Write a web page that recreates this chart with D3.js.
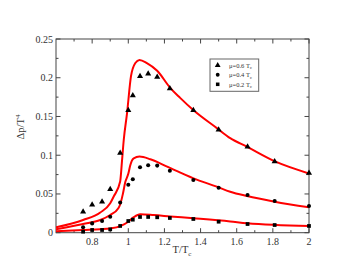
<!DOCTYPE html>
<html><head><meta charset="utf-8">
<script src="https://cdn.jsdelivr.net/npm/d3@7"></script>
<style>body{margin:0;background:#fff}svg{display:block}</style>
</head><body>
<svg id="c" width="360" height="278"></svg>
<script>
// Lattice data points [T/Tc, Δp/T^4]
const tri = [[0.75,0.027],[0.80,0.036],[0.855,0.040],[0.90,0.056],[0.955,0.103],[1.0,0.158],[1.025,0.177],[1.065,0.202],[1.11,0.205],[1.16,0.201],[1.23,0.186],[1.36,0.158],[1.50,0.133],[1.66,0.111],[1.81,0.092],[2.0,0.077]];
const circ = [[0.75,0.007],[0.80,0.012],[0.855,0.015],[0.90,0.0207],[0.955,0.039],[1.0,0.062],[1.025,0.069],[1.065,0.0845],[1.11,0.087],[1.16,0.0866],[1.23,0.080],[1.36,0.068],[1.50,0.058],[1.66,0.0487],[1.81,0.041],[2.0,0.0345]];
const sq = [[0.75,0.0013],[0.80,0.0035],[0.855,0.0035],[0.90,0.0043],[0.955,0.0087],[1.0,0.0151],[1.025,0.0168],[1.065,0.0203],[1.11,0.0203],[1.16,0.0199],[1.23,0.019],[1.36,0.0177],[1.50,0.0142],[1.66,0.0112],[1.81,0.0099],[2.0,0.0087]];
// Model curves
const curve06 = [[0.6,0.007],[0.75,0.0164],[0.845,0.026],[0.90,0.038],[0.92,0.047],[0.955,0.066],[0.965,0.092],[0.975,0.12],[0.993,0.154],[1.015,0.202],[1.039,0.219],[1.062,0.223],[1.103,0.219],[1.16,0.209],[1.232,0.187],[1.287,0.174],[1.361,0.158],[1.49,0.135],[1.564,0.122],[1.656,0.111],[1.812,0.092],[2.0,0.0765]];
const curve04 = [[0.6,0.0044],[0.75,0.0112],[0.845,0.0164],[0.90,0.0229],[0.945,0.0315],[0.956,0.037],[0.97,0.05],[0.983,0.065],[1.0,0.076],[1.011,0.087],[1.02,0.093],[1.03,0.096],[1.062,0.0982],[1.122,0.0948],[1.215,0.0853],[1.361,0.0702],[1.49,0.0594],[1.564,0.0529],[1.657,0.0473],[1.81,0.040],[2.0,0.0328]];
const curve02 = [[0.6,0.0018],[0.75,0.0035],[0.845,0.0045],[0.90,0.0055],[0.956,0.0085],[1.0,0.0142],[1.03,0.020],[1.066,0.0238],[1.14,0.0228],[1.232,0.021],[1.361,0.0186],[1.564,0.0145],[1.657,0.0122],[2.0,0.0087]];
const xTicks = [0.8,1,1.2,1.4,1.6,1.8,2];
const xTickLabels = ["0.8","1","1.2","1.4","1.6","1.8","2"];
const yTicks = [0,0.05,0.1,0.15,0.2,0.25];
const yTickLabels = ["0","0.05","0.1","0.15","0.2","0.25"];
const legendLabels = ["μ=0.6 T","μ=0.4 T","μ=0.2 T"];

const svg = d3.select("#c");
const L=56,R=309,T=39,B=232.7;
const x = d3.scaleLinear().domain([0.6,2]).range([L,R]);
const y = d3.scaleLinear().domain([0,0.25]).range([B,T]);
const font = "'Liberation Serif','Times New Roman',serif";
const axc = "#444";

const g = svg.append("g");
// frame
g.append("rect").attr("x",L).attr("y",T).attr("width",R-L).attr("height",B-T)
 .attr("fill","none").attr("stroke",axc).attr("stroke-width",1);

const xMinor = d3.range(0.7,2.0,0.2).map(v=>+v.toFixed(2));
const yMinor = d3.range(0.025,0.25,0.05).map(v=>+v.toFixed(3));
function xt(vals,len){
  vals.forEach(v=>{
    g.append("line").attr("x1",x(v)).attr("x2",x(v)).attr("y1",B).attr("y2",B-len).attr("stroke",axc);
    g.append("line").attr("x1",x(v)).attr("x2",x(v)).attr("y1",T).attr("y2",T+len).attr("stroke",axc);
  });
}
function yt(vals,len){
  vals.forEach(v=>{
    g.append("line").attr("y1",y(v)).attr("y2",y(v)).attr("x1",L).attr("x2",L+len).attr("stroke",axc);
    g.append("line").attr("y1",y(v)).attr("y2",y(v)).attr("x1",R).attr("x2",R-len).attr("stroke",axc);
  });
}
xt(xTicks,4.5); xt(xMinor,2.5); yt(yTicks,4.5); yt(yMinor,2.5);

xTicks.forEach((v,i)=>{
  g.append("text").attr("x",x(v)).attr("y",B+12).attr("text-anchor","middle")
   .attr("font-family",font).attr("font-size",10).attr("fill","#333").text(xTickLabels[i]);
});
yTicks.forEach((v,i)=>{
  g.append("text").attr("x",L-3).attr("y",y(v)+3.5).attr("text-anchor","end")
   .attr("font-family",font).attr("font-size",10).attr("fill","#333").text(yTickLabels[i]);
});
// axis titles
const xt1 = g.append("text").attr("x",182).attr("y",253).attr("text-anchor","middle")
 .attr("font-family",font).attr("font-size",10.5).attr("fill","#333");
xt1.append("tspan").text("T/T");
xt1.append("tspan").attr("font-size",7).attr("dy",2.5).text("c");
const yt1 = g.append("text").attr("transform","translate(24,127) rotate(-90)").attr("text-anchor","middle")
 .attr("font-family",font).attr("font-size",10.5).attr("fill","#333");
yt1.append("tspan").text("Δp/T");
yt1.append("tspan").attr("font-size",7).attr("dy",-4).text("4");

// curves
const line = d3.line().x(d=>x(d[0])).y(d=>y(d[1])).curve(d3.curveMonotoneX);
const clip = svg.append("clipPath").attr("id","cp").append("rect").attr("x",L).attr("y",T).attr("width",R-L).attr("height",B-T);
[curve06,curve04,curve02].forEach(c=>{
  g.append("path").attr("d",line(c)).attr("fill","none").attr("stroke","#ff0000").attr("stroke-width",2).attr("clip-path","url(#cp)");
});
// points
const sym = [d3.symbolTriangle,d3.symbolCircle,d3.symbolSquare];
const sizes = [16,13,14];
[tri,circ,sq].forEach((s,k)=>{
  g.selectAll(null).data(s).enter().append("path")
   .attr("d",d3.symbol().type(sym[k]).size(sizes[k]))
   .attr("transform",d=>`translate(${x(d[0])},${y(d[1])})`).attr("fill","#000");
});
// legend
g.append("rect").attr("x",210).attr("y",59).attr("width",48.7).attr("height",32.3)
 .attr("fill","#fff").attr("stroke","#666").attr("stroke-width",1);
legendLabels.forEach((t,i)=>{
  const yy = 65.3 + i*9.5;
  g.append("path").attr("d",d3.symbol().type(sym[i]).size(sizes[i]*0.9)).attr("transform",`translate(217.7,${yy})`).attr("fill","#000");
  const tx = g.append("text").attr("x",229).attr("y",yy+2.3).attr("font-family",font).attr("font-size",6.5).attr("fill","#333");
  tx.append("tspan").text(t);
  tx.append("tspan").attr("font-size",4.5).attr("dy",1.5).text("c");
});
</script>
</body></html>
